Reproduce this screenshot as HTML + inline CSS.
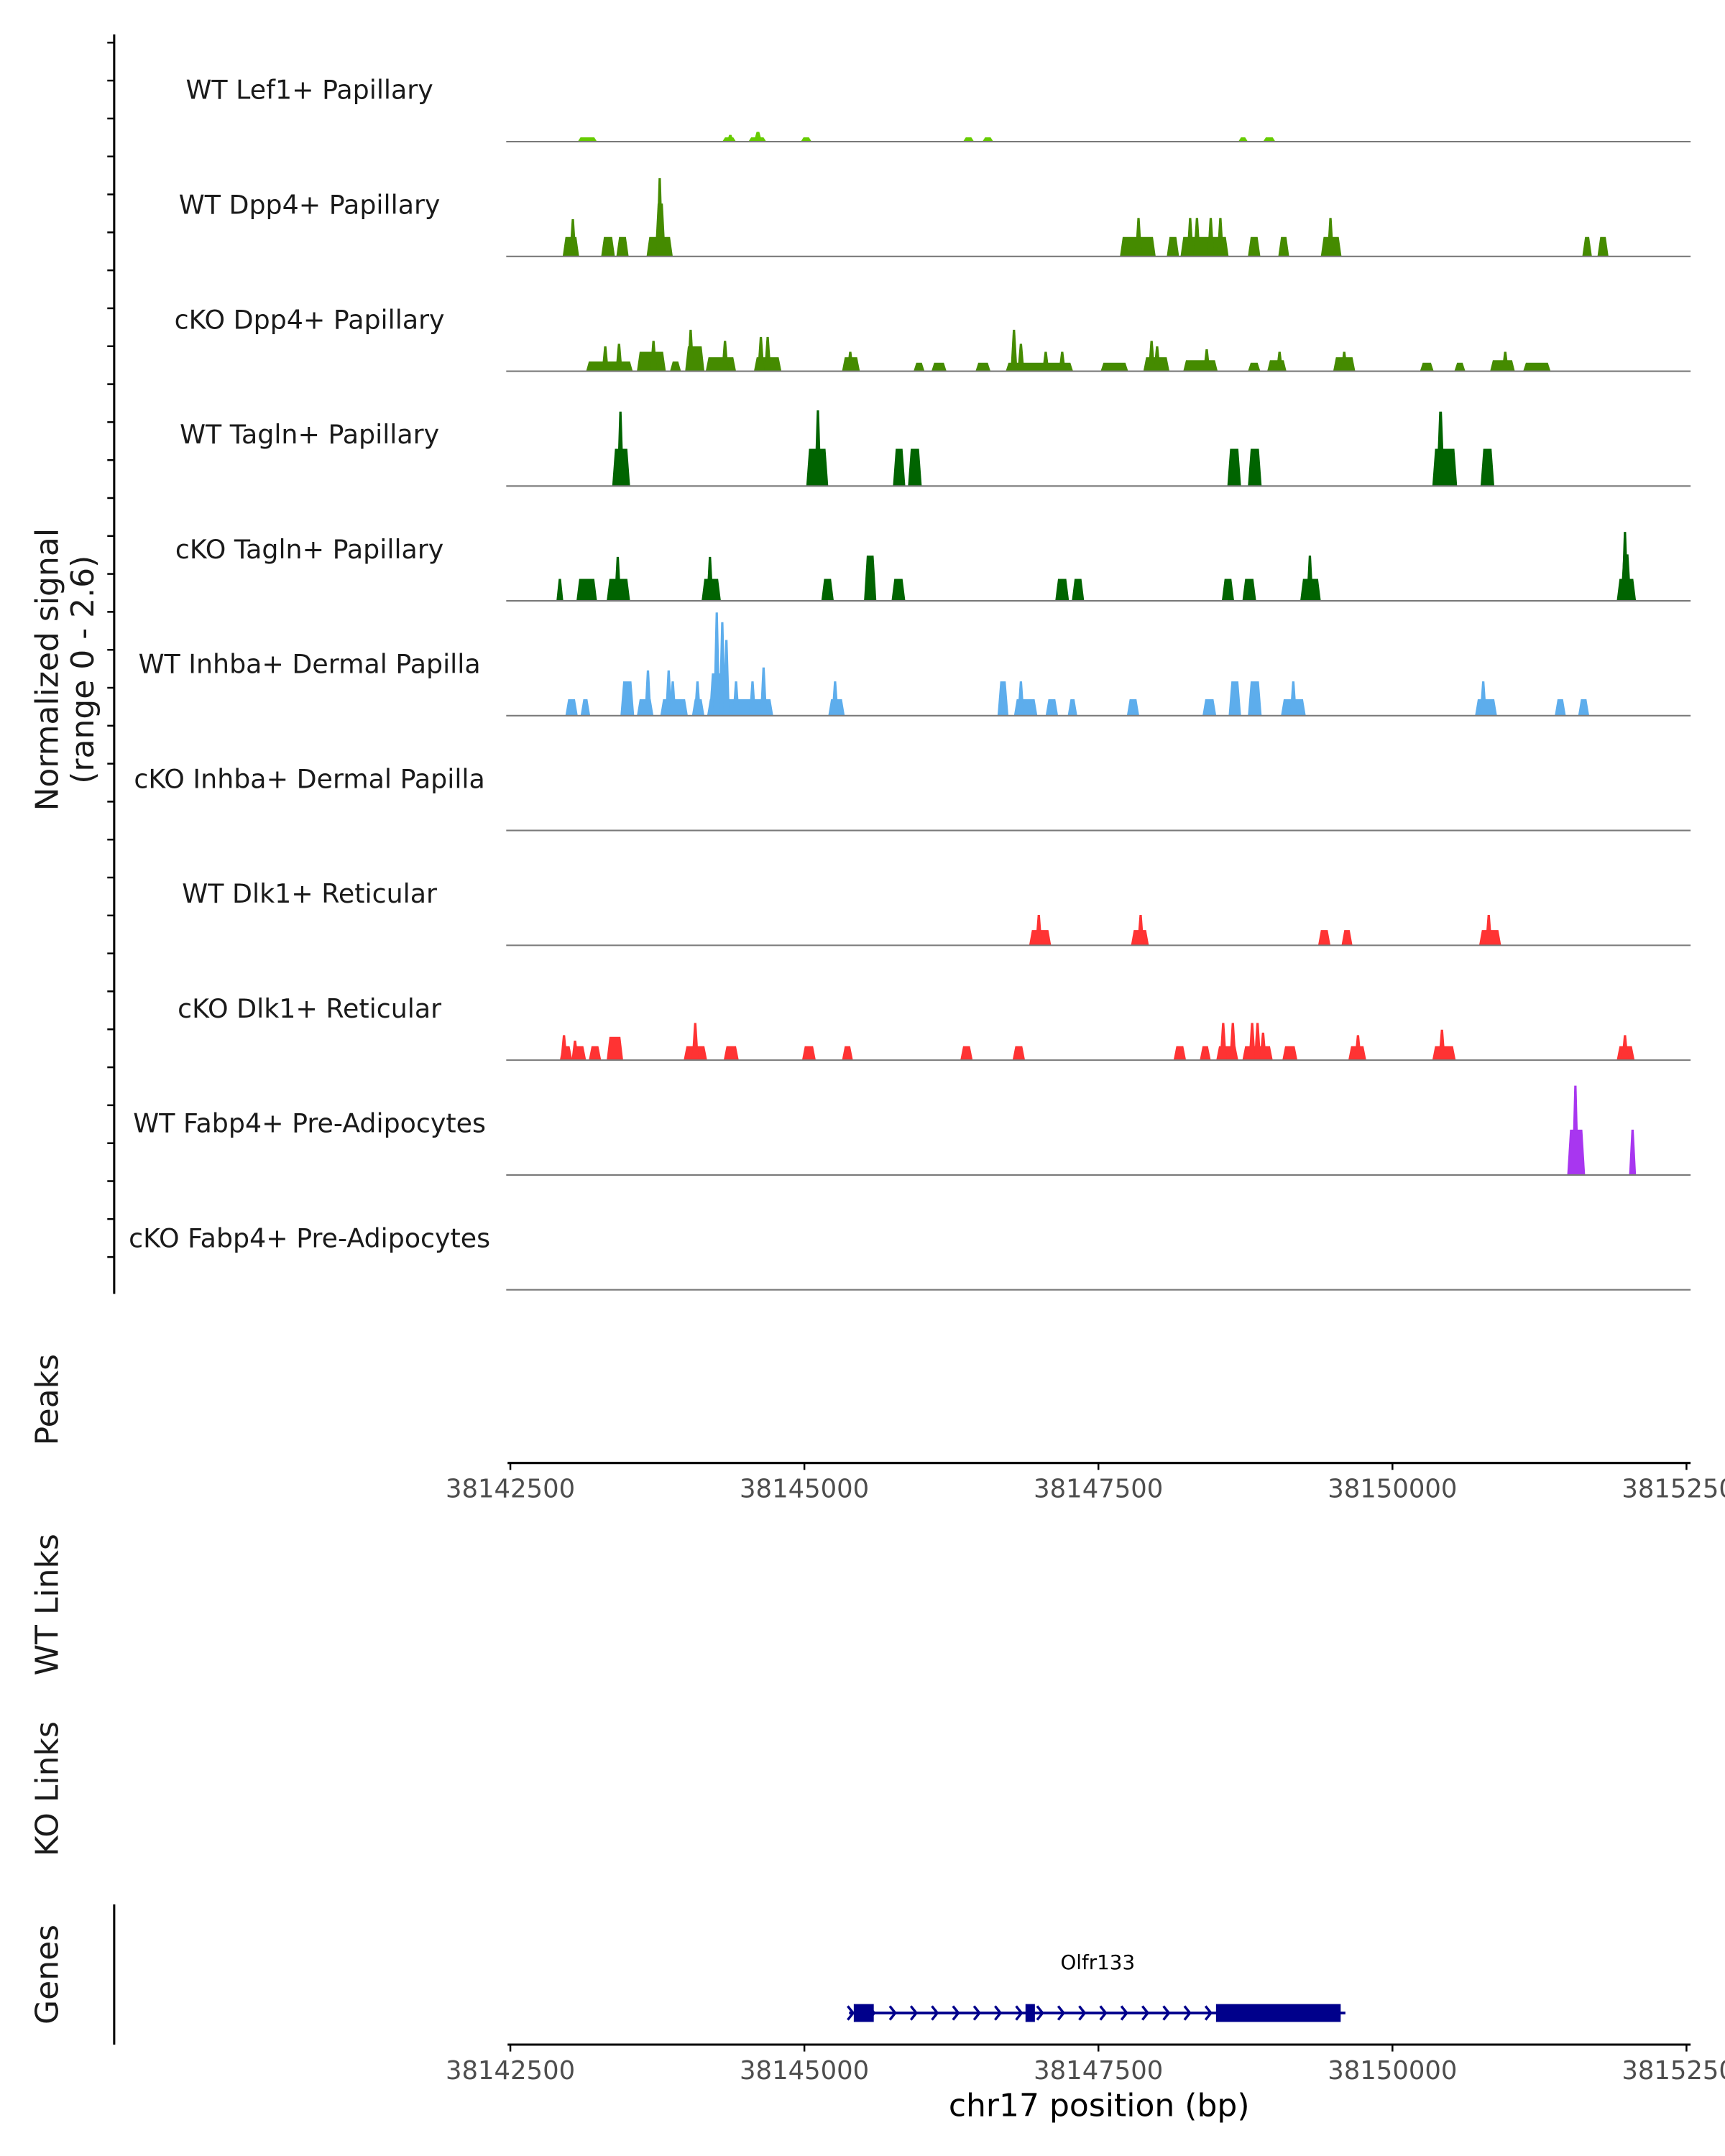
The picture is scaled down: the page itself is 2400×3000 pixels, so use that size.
<!DOCTYPE html>
<html><head><meta charset="utf-8"><style>
html,body{margin:0;padding:0;background:#fff;}
svg{display:block;font-family:"DejaVu Sans","Liberation Sans",sans-serif;}
</style></head><body>
<svg id="chart" width="2400" height="3000" viewBox="0 0 1254 1568" preserveAspectRatio="none" xmlns="http://www.w3.org/2000/svg">
<g id="tracks"></g>
<line x1="83" y1="25" x2="83" y2="941" stroke="#000" stroke-width="1.6"/>
<g id="yticks"></g>
<text transform="translate(42,487) rotate(-90)" text-anchor="middle" font-size="23" fill="#1a1a1a"><tspan x="0" dy="0">Normalized signal</tspan><tspan x="0" dy="26">(range 0 - 2.6)</tspan></text>
<text transform="translate(42,1018) rotate(-90)" text-anchor="middle" font-size="23" fill="#1a1a1a">Peaks</text>
<text transform="translate(42,1167) rotate(-90)" text-anchor="middle" font-size="23" fill="#1a1a1a">WT Links</text>
<text transform="translate(42,1301) rotate(-90)" text-anchor="middle" font-size="23" fill="#1a1a1a">KO Links</text>
<text transform="translate(42,1436) rotate(-90)" text-anchor="middle" font-size="23" fill="#1a1a1a">Genes</text>
<line x1="83" y1="1385" x2="83" y2="1487" stroke="#000" stroke-width="1.6"/>
<g id="xaxis1"></g>
<g id="xaxis2"></g>
<g id="gene"></g>
<text x="799" y="1539" text-anchor="middle" font-size="23" fill="#000">chr17 position (bp)</text>
</svg>
<script>
const regionStart = 38142500;
const regionEnd = 38152500;
const xTicks = [38142500, 38145000, 38147500, 38150000, 38152500];
const trackNames = ["WT Lef1+ Papillary","WT Dpp4+ Papillary","cKO Dpp4+ Papillary","WT Tagln+ Papillary","cKO Tagln+ Papillary","WT Inhba+ Dermal Papilla","cKO Inhba+ Dermal Papilla","WT Dlk1+ Reticular","cKO Dlk1+ Reticular","WT Fabp4+ Pre-Adipocytes","cKO Fabp4+ Pre-Adipocytes"];
const trackColors = ["#66CC00","#458B00","#458B00","#006400","#006400","#5DADEC","#5DADEC","#FF3333","#FF3333","#A836F0","#A836F0"];
const yMax = 2.6;
// blocks: [startOffsetBp, endOffsetBp, signal]
const lef1WT = [[573,737,0.1],[1802,1919,0.1],[1850,1890,0.16],[2024,2176,0.1],[2070,2140,0.23],[2469,2562,0.1],[3849,3943,0.1],[4013,4107,0.1],[6189,6271,0.1],[6400,6505,0.1]];
const dpp4WT = [[445,585,0.46],[503,560,0.88],[772,889,0.46],[901,1006,0.46],[1158,1381,0.46],[1229,1320,1.25],[1250,1290,1.85],[5183,5487,0.46],[5312,5370,0.91],[5581,5686,0.46],[5698,6107,0.46],[5768,5792,0.91],[5826,5850,0.91],[5943,5967,0.91],[6025,6049,0.91],[6271,6377,0.46],[6529,6622,0.46],[6891,7067,0.46],[6961,6985,0.91],[9114,9196,0.46],[9243,9337,0.46]];
const dpp4KO = [[644,1041,0.23],[795,819,0.59],[912,936,0.65],[1076,1322,0.46],[1205,1229,0.72],[1357,1451,0.23],[1486,1650,0.59],[1521,1545,0.98],[1661,1919,0.33],[1813,1837,0.72],[2071,2305,0.33],[2118,2142,0.81],[2176,2200,0.81],[2820,2972,0.33],[2878,2902,0.46],[3428,3522,0.2],[3580,3709,0.2],[3955,4083,0.2],[4212,4785,0.2],[4270,4294,0.98],[4329,4353,0.65],[4540,4564,0.46],[4680,4704,0.46],[5019,5253,0.2],[5382,5604,0.33],[5440,5464,0.72],[5487,5511,0.59],[5721,6014,0.26],[5909,5933,0.52],[6271,6377,0.2],[6435,6599,0.26],[6528,6552,0.46],[6996,7184,0.33],[7078,7102,0.46],[7734,7851,0.2],[8026,8120,0.2],[8330,8541,0.26],[8447,8471,0.46],[8611,8845,0.2]];
const taglnWT = [[866,1018,0.88],[912,960,1.76],[2516,2703,0.88],[2597,2633,1.79],[3253,3358,0.88],[3381,3498,0.88],[6096,6213,0.88],[6271,6388,0.88],[7839,8050,0.88],[7874,7944,1.76],[8249,8366,0.88]];
const taglnKO = [[409,433,0.52],[562,737,0.52],[819,1018,0.52],[901,925,1.04],[1626,1790,0.52],[1685,1709,1.04],[2644,2750,0.52],[3007,3112,1.07],[3241,3358,0.52],[4633,4750,0.52],[4774,4879,0.52],[6049,6154,0.52],[6224,6341,0.52],[6716,6891,0.52],[6786,6810,1.07],[9407,9571,0.52],[9440,9530,1.1],[9465,9489,1.63]];
const inhbaWT = [[468,573,0.39],[597,679,0.39],[936,1053,0.81],[1076,1217,0.39],[1158,1182,1.07],[1275,1509,0.39],[1334,1358,1.07],[1369,1393,0.81],[1544,1650,0.39],[1579,1603,0.81],[1673,2235,0.39],[1690,1870,1.0],[1743,1767,2.44],[1790,1814,2.21],[1825,1849,1.79],[1907,1931,0.81],[2047,2071,0.81],[2141,2165,1.14],[2703,2843,0.39],[2749,2773,0.81],[4142,4235,0.81],[4282,4481,0.39],[4329,4353,0.81],[4551,4657,0.39],[4739,4820,0.39],[5242,5347,0.39],[5885,6002,0.39],[6107,6213,0.81],[6271,6388,0.81],[6552,6763,0.39],[6645,6669,0.81],[8202,8389,0.39],[8260,8284,0.81],[8880,8974,0.39],[9079,9173,0.39]];
const inhbaKO = [];
const dlk1WT = [[4411,4598,0.36],[4481,4505,0.72],[5277,5429,0.36],[5347,5371,0.72],[6868,6973,0.36],[7067,7160,0.36],[8237,8424,0.36],[8295,8342,0.72]];
const dlk1KO = [[421,527,0.33],[444,468,0.59],[538,644,0.33],[538,562,0.46],[667,772,0.33],[819,959,0.55],[1474,1673,0.33],[1544,1600,0.88],[1814,1942,0.33],[2480,2597,0.33],[2820,2913,0.33],[3826,3931,0.33],[4270,4376,0.33],[5639,5745,0.33],[5862,5955,0.33],[6002,6189,0.33],[6049,6073,0.88],[6131,6155,0.88],[6224,6482,0.33],[6295,6319,0.88],[6341,6365,0.88],[6388,6412,0.65],[6564,6692,0.33],[7125,7277,0.33],[7195,7219,0.59],[7839,8038,0.33],[7909,7933,0.72],[9407,9559,0.33],[9465,9489,0.59]];
const fabp4WT = [[8986,9138,1.07],[9032,9079,2.11],[9512,9571,1.07]];
const fabp4KO = [];
const trackData = [lef1WT,dpp4WT,dpp4KO,taglnWT,taglnKO,inhbaWT,inhbaKO,dlk1WT,dlk1KO,fabp4WT,fabp4KO];
// gene model (bp)
const geneStart = 38145380, geneEnd = 38149600;
const geneExons = [[38145420,38145590],[38146880,38146960],[38148500,38149560]];

const NS = "http://www.w3.org/2000/svg";
const X0 = 371, X1 = 1226;
function xs(bp){ return X0 + (bp - regionStart) / (regionEnd - regionStart) * (X1 - X0); }
const TRACK_H = 80;
function ys(v, base){ return base - v / yMax * TRACK_H; }
function mk(tag, attrs, parent){ const e = document.createElementNS(NS, tag); for (const k in attrs) e.setAttribute(k, attrs[k]); parent.appendChild(e); return e; }

const tracksG = document.getElementById('tracks');
trackNames.forEach((name, i) => {
  const base = 103 + i * 83.5;
  const g = mk('g', {}, tracksG);
  
  
  trackData[i].forEach(b => {
    let xa = xs(regionStart + b[0]), xb = xs(regionStart + b[1]);
    const yt = ys(b[2], base);
    if (xb - xa < 5) { const c = (xa + xb) / 2; xa = c - 2.5; xb = c + 2.5; }
    const s = Math.min(2, (xb - xa) / 3);
    const p = mk('polygon', {points: `${xa},${base} ${xa + s},${yt} ${xb - s},${yt} ${xb},${base}`, fill: trackColors[i]}, g);
    
    
  });
  const bl = mk('line', {x1: 368, x2: 1229, y1: base, y2: base, stroke: '#7a7a7a', 'stroke-width': 1.1}, g);
  
  
  const t = mk('text', {x: 225, y: base - 31, 'text-anchor': 'middle', 'font-size': 19, fill: '#1a1a1a'}, g);
  t.textContent = name;
  
  
});

const yt = document.getElementById('yticks');
for (let y = 31; y <= 941; y += 27.6) {
  const l = mk('line', {x1: 78, x2: 83, y1: y, y2: y, stroke: '#000', 'stroke-width': 1.3}, yt);
  
  
}

function drawAxis(id, y) {
  const g = document.getElementById(id);
  mk('line', {x1: 369, x2: 1229, y1: y, y2: y, stroke: '#000', 'stroke-width': 1.6}, g);
  xTicks.forEach(v => {
    const x = xs(v);
    const tk = mk('line', {x1: x, x2: x, y1: y, y2: y + 5, stroke: '#000', 'stroke-width': 1.3}, g);
    
    
    const t = mk('text', {x: x, y: y + 25, 'text-anchor': 'middle', 'font-size': 18.5, fill: '#4d4d4d'}, g);
    t.textContent = v;
    
    
  });
}
drawAxis('xaxis1', 1064);
drawAxis('xaxis2', 1487);

const gg = document.getElementById('gene');
const gy = 1464;
mk('line', {x1: xs(geneStart), x2: xs(geneEnd), y1: gy, y2: gy, stroke: '#00008B', 'stroke-width': 2}, gg);
for (let x = xs(geneStart) + 1; x < xs(geneEnd) - 10; x += 15.3) {
  const a = mk('polyline', {points: `${x - 2},${gy - 5} ${x + 2},${gy} ${x - 2},${gy + 5}`, fill: 'none', stroke: '#00008B', 'stroke-width': 1.8}, gg);
  
  
}
geneExons.forEach(e => {
  const r = mk('rect', {x: xs(e[0]), y: gy - 6.5, width: xs(e[1]) - xs(e[0]), height: 13, fill: '#00008B'}, gg);
  
  
});
const gl = mk('text', {x: 798, y: 1432, 'text-anchor': 'middle', 'font-size': 14.5, fill: '#000'}, gg);
gl.textContent = 'Olfr133';


</script>
</body></html>
